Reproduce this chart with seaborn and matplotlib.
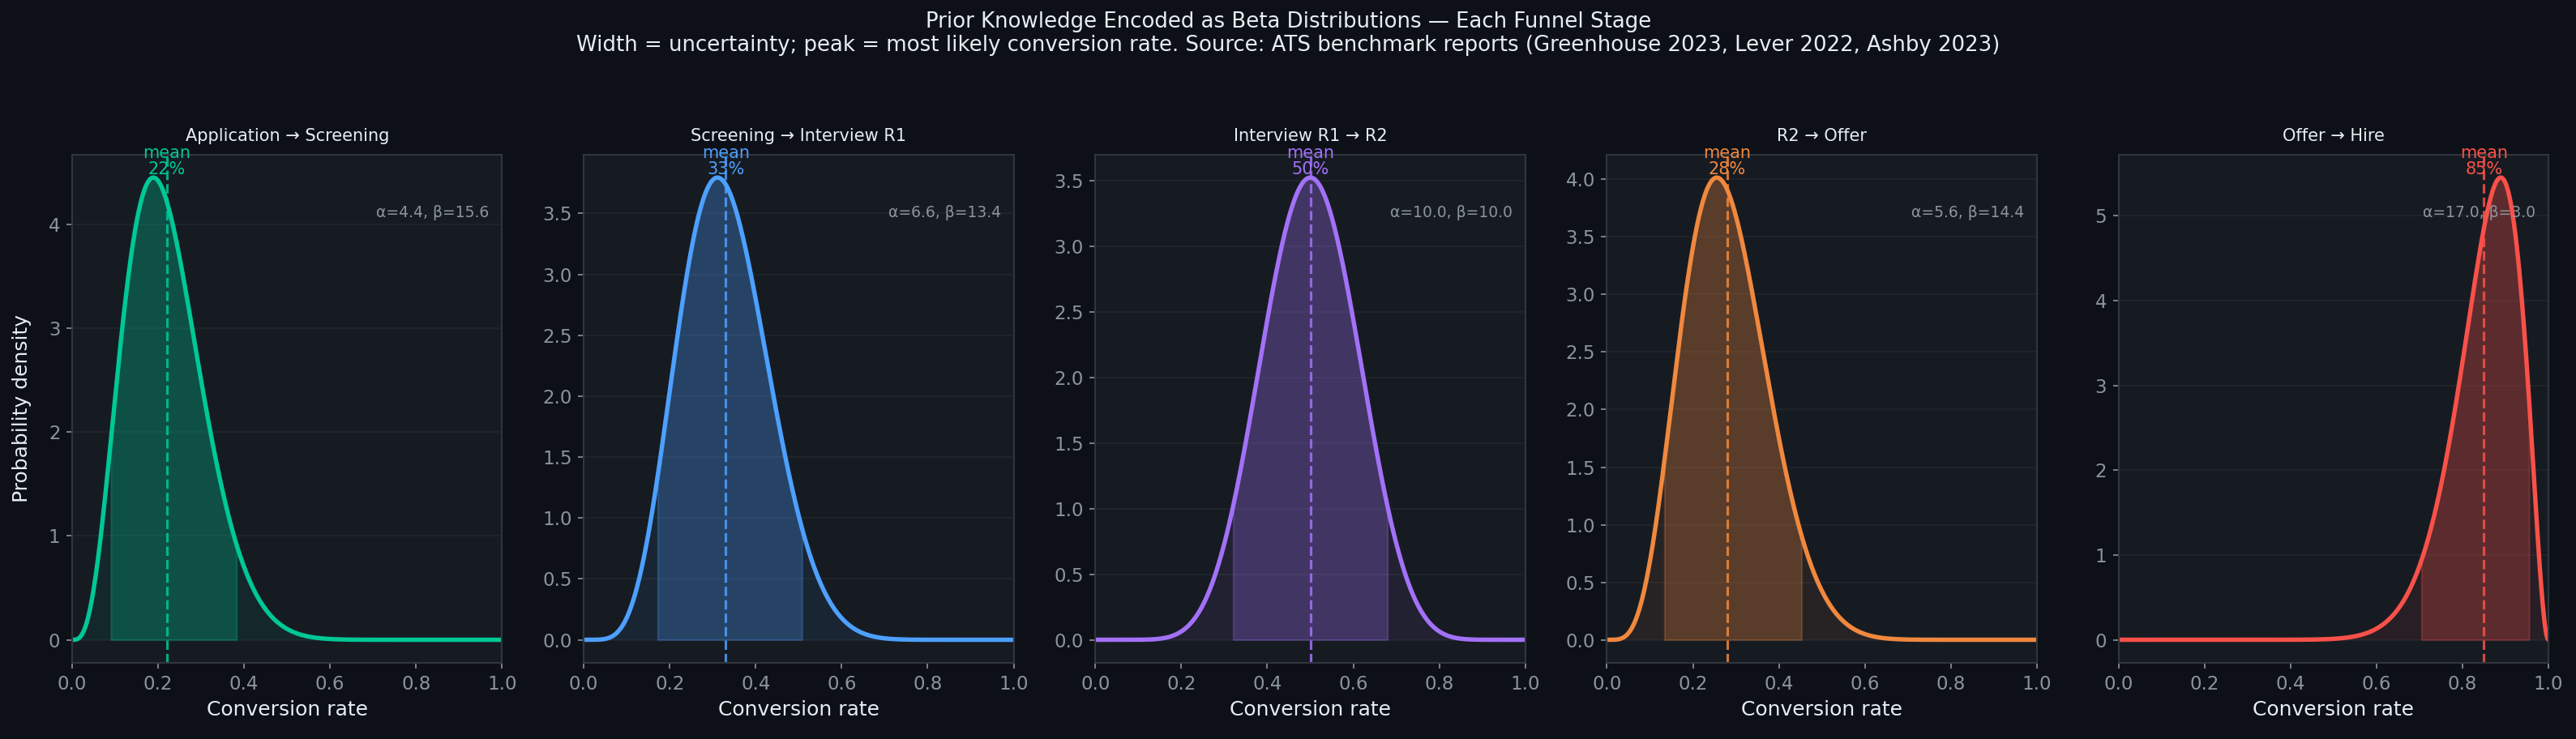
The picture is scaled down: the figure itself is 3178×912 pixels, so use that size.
import math
import numpy as np
import matplotlib
matplotlib.use("Agg")
import matplotlib.pyplot as plt
import seaborn as sns

# Beta-Prior je Funnel-Stufe (aus den ATS Benchmark Reports)
stages = ["Application → Screening", "Screening → Interview R1", "Interview R1 → R2",
          "R2 → Offer", "Offer → Hire"]
alphas = [4.4, 6.6, 10.0, 5.6, 17.0]
betas = [15.6, 13.4, 10.0, 14.4, 3.0]
colors = ["#00C896", "#4DA0FF", "#A371F7", "#F0883E", "#F85149"]
ci_level = 0.90

BG = "#0D1117"
PANEL = "#161B22"
GRID = "#21262D"
EDGE = "#30363D"
TEXT = "#E6EDF3"
MUTED = "#8B949E"


def beta_pdf(x, a, b):
    log_norm = math.lgamma(a + b) - math.lgamma(a) - math.lgamma(b)
    return np.exp(log_norm) * x ** (a - 1) * (1 - x) ** (b - 1)


def beta_interval(a, b, level):
    xs = np.linspace(0, 1, 20001)
    pdf = beta_pdf(xs, a, b)
    cdf = np.concatenate([[0], np.cumsum((pdf[1:] + pdf[:-1]) / 2 * np.diff(xs))])
    cdf /= cdf[-1]
    lo = np.interp((1 - level) / 2, cdf, xs)
    hi = np.interp(1 - (1 - level) / 2, cdf, xs)
    return lo, hi


sns.set_theme(style="dark", rc={
    "figure.facecolor": BG,
    "axes.facecolor": PANEL,
    "axes.edgecolor": EDGE,
    "axes.labelcolor": TEXT,
    "text.color": TEXT,
    "xtick.color": MUTED,
    "ytick.color": MUTED,
    "grid.color": GRID,
    "xtick.bottom": True,
    "ytick.left": True,
})
plt.rcParams["font.family"] = ["DejaVu Sans"]

fig, axes = plt.subplots(1, 5, figsize=(3179 / 150, 912 / 150), dpi=150)
fig.subplots_adjust(left=0.028, right=0.989, top=0.791, bottom=0.103, wspace=0.19)

x = np.linspace(0, 1, 600)

for i, ax in enumerate(axes):
    a, b, c = alphas[i], betas[i], colors[i]
    y = beta_pdf(x, a, b)
    mean = a / (a + b)
    lo, hi = beta_interval(a, b, ci_level)

    ax.fill_between(x, 0, y, color=c, alpha=0.08, lw=0)
    mask = (x >= lo) & (x <= hi)
    ax.fill_between(x[mask], 0, y[mask], color=c, alpha=0.25)
    sns.lineplot(x=x, y=y, ax=ax, color=c, lw=2.6)
    ax.axvline(mean, color=c, ls="--", lw=1.5, alpha=0.85)
    ax.text(mean, y.max(), f"mean\n{mean:.0%}", color=c, fontsize=10,
            ha="center", va="bottom", linespacing=1.0)
    ax.text(0.97, 0.90, f"α={a:.1f}, β={b:.1f}", transform=ax.transAxes,
            color=MUTED, fontsize=9, ha="right", va="top")

    ax.set_xlim(0, 1)
    ax.set_xticks(np.arange(0, 1.01, 0.2))
    ax.grid(axis="y", color=GRID, lw=0.8)
    ax.grid(axis="x", visible=False)
    for s in ax.spines.values():
        s.set_color(EDGE)
        s.set_linewidth(1.0)
    ax.tick_params(labelsize=11, colors=MUTED, length=3.5, width=0.8)
    ax.set_title(stages[i], fontsize=10, color=TEXT, pad=8)
    ax.set_xlabel("Conversion rate", fontsize=12, color=TEXT)
    ax.set_ylabel("")

axes[0].set_ylabel("Probability density", fontsize=12, color=TEXT, labelpad=10)

fig.suptitle("Prior Knowledge Encoded as Beta Distributions — Each Funnel Stage\n"
             "Width = uncertainty; peak = most likely conversion rate. Source: ATS benchmark reports "
             "(Greenhouse 2023, Lever 2022, Ashby 2023)",
             fontsize=12.5, color=TEXT, y=0.985, linespacing=1.15)

fig.savefig("out.png", dpi=150, facecolor=BG)
